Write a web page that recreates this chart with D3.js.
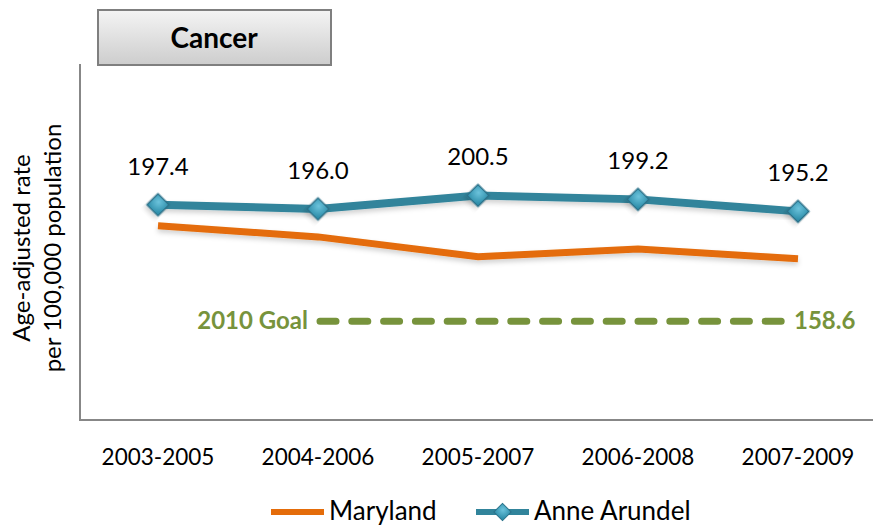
<!DOCTYPE html>
<html>
<head>
<meta charset="utf-8">
<script src="https://cdn.jsdelivr.net/npm/d3@7"></script>
<style>
  body { margin: 0; background: #fff; }
  svg { display: block; font-family: Lato, "Open Sans", sans-serif; }
</style>
</head>
<body>
<div id="chart"></div>
<script>
// chart data
const periods = ["2003-2005", "2004-2006", "2005-2007", "2006-2008", "2007-2009"];
const maryland = [190.4, 186.7, 180.1, 182.7, 179.4];
const anneArundel = [197.4, 196.0, 200.5, 199.2, 195.2];
const goalValue = 158.6;
const goalLabel = "2010 Goal";
const chartTitle = "Cancer";
const seriesNames = ["Maryland", "Anne Arundel"];

const width = 873, height = 526;
const margin = {top: 64, left: 80, bottom: 106};
const plotRight = 878;

const svg = d3.select("#chart")
    .append("svg")
        .attr("width", width)
        .attr("height", height);

const defs = svg.append("defs");

// title box gradient
const grad = defs.append("linearGradient")
    .attr("id", "titleGrad")
    .attr("x1", 0).attr("y1", 0).attr("x2", 0).attr("y2", 1);
grad.append("stop").attr("offset", "0%").attr("stop-color", "#f4f4f4");
grad.append("stop").attr("offset", "100%").attr("stop-color", "#cdcdcd");

// marker gradient
const mgrad = defs.append("radialGradient")
    .attr("id", "markerGrad")
    .attr("cx", "40%").attr("cy", "35%").attr("r", "70%");
mgrad.append("stop").attr("offset", "0%").attr("stop-color", "#6cc3dc");
mgrad.append("stop").attr("offset", "100%").attr("stop-color", "#2f8fab");

// soft shadow under the lines
const shadow = defs.append("filter")
    .attr("id", "shadow")
    .attr("x", "-10%").attr("y", "-50%").attr("width", "120%").attr("height", "200%");
shadow.append("feDropShadow")
    .attr("dx", 0).attr("dy", 3).attr("stdDeviation", 2.5)
    .attr("flood-color", "#000").attr("flood-opacity", 0.18);

// scales
const x = d3.scalePoint()
    .domain(periods)
    .range([margin.left - 2, plotRight])
    .padding(0.5);

const y = d3.scaleLinear()
    .domain([125.7, 244.3])
    .range([height - margin.bottom, margin.top]);

// axes frame (left + bottom only)
svg.append("line")
    .attr("x1", margin.left).attr("x2", margin.left)
    .attr("y1", margin.top).attr("y2", height - margin.bottom)
    .attr("stroke", "#878787").attr("stroke-width", 2);
svg.append("line")
    .attr("x1", margin.left - 1).attr("x2", width)
    .attr("y1", height - margin.bottom).attr("y2", height - margin.bottom)
    .attr("stroke", "#878787").attr("stroke-width", 2);

// category labels
svg.append("g")
    .selectAll("text")
    .data(periods)
    .join("text")
        .attr("x", d => x(d))
        .attr("y", height - margin.bottom + 45)
        .attr("text-anchor", "middle")
        .style("font-size", "22.5px")
        .attr("fill", "#000")
        .text(d => d);

// y axis title
const yTitle = svg.append("text")
    .attr("transform", `translate(30, ${(margin.top + height - margin.bottom) / 2 + 6}) rotate(-90)`)
    .attr("text-anchor", "middle")
    .style("font-size", "24px");
yTitle.append("tspan").attr("x", 0).attr("dy", 0).text("Age-adjusted rate");
yTitle.append("tspan").attr("x", 0).attr("dy", 31).text("per 100,000 population");

// goal line
const goalY = y(goalValue);
svg.append("line")
    .attr("x1", x(periods[1]) + 2)
    .attr("x2", x(periods[4]) - 15)
    .attr("y1", goalY).attr("y2", goalY)
    .attr("stroke", "#77933c")
    .attr("stroke-width", 7)
    .attr("stroke-linecap", "round")
    .attr("stroke-dasharray", "16,15.8");
svg.append("text")
    .attr("x", x(periods[1]) - 10)
    .attr("y", goalY + 8)
    .attr("text-anchor", "end")
    .attr("fill", "#77933c")
    .style("font-size", "24px")
    .style("font-weight", "bold")
    .text(goalLabel);
svg.append("text")
    .attr("x", x(periods[4]) - 4)
    .attr("y", goalY + 8)
    .attr("fill", "#77933c")
    .style("font-size", "24px")
    .style("font-weight", "bold")
    .text(goalValue.toFixed(1));

// series lines
const line = d3.line()
    .x((d, i) => x(periods[i]))
    .y(d => y(d));

svg.append("path")
    .datum(maryland)
    .attr("d", line)
    .attr("fill", "none")
    .attr("stroke", "#e46c0a")
    .attr("stroke-width", 7)
    .attr("filter", "url(#shadow)");

svg.append("path")
    .datum(anneArundel)
    .attr("d", line)
    .attr("fill", "none")
    .attr("stroke", "#31849b")
    .attr("stroke-width", 8)
    .attr("filter", "url(#shadow)");

const diamond = d3.symbol().type(d3.symbolSquare).size(240);

svg.append("g")
    .selectAll("path")
    .data(anneArundel)
    .join("path")
        .attr("d", diamond)
        .attr("transform", (d, i) => `translate(${x(periods[i])}, ${y(d)}) rotate(45)`)
        .attr("fill", "url(#markerGrad)")
        .attr("stroke", "#2a7189")
        .attr("stroke-width", 1.5)
        .attr("filter", "url(#shadow)");

// data labels
svg.append("g")
    .selectAll("text")
    .data(anneArundel)
    .join("text")
        .attr("x", (d, i) => x(periods[i]))
        .attr("y", d => y(d) - 30)
        .attr("text-anchor", "middle")
        .style("font-size", "24px")
        .text(d => d.toFixed(1));

// title box
svg.append("rect")
    .attr("x", 98).attr("y", 10)
    .attr("width", 233).attr("height", 55)
    .attr("fill", "url(#titleGrad)")
    .attr("stroke", "#7f7f7f")
    .attr("stroke-width", 2);
svg.append("text")
    .attr("x", 214).attr("y", 48)
    .attr("text-anchor", "middle")
    .style("font-size", "28px")
    .style("font-weight", "bold")
    .text(chartTitle);

// legend
const legend = svg.append("g").attr("transform", `translate(0, ${height - 14})`);
const legendX = [271, 476];
legend.append("line")
    .attr("x1", legendX[0]).attr("x2", legendX[0] + 53)
    .attr("stroke", "#e46c0a").attr("stroke-width", 6);
legend.append("line")
    .attr("x1", legendX[1]).attr("x2", legendX[1] + 53)
    .attr("stroke", "#31849b").attr("stroke-width", 6);
legend.append("path")
    .attr("d", d3.symbol().type(d3.symbolSquare).size(150))
    .attr("transform", `translate(${legendX[1] + 26.5}, 0) rotate(45)`)
    .attr("fill", "url(#markerGrad)")
    .attr("stroke", "#2a7189");
legend.selectAll("text.lbl")
    .data(seriesNames)
    .join("text")
        .attr("class", "lbl")
        .attr("x", (d, i) => legendX[i] + 58)
        .attr("y", 8)
        .style("font-size", "26px")
        .text(d => d);
</script>
</body>
</html>
